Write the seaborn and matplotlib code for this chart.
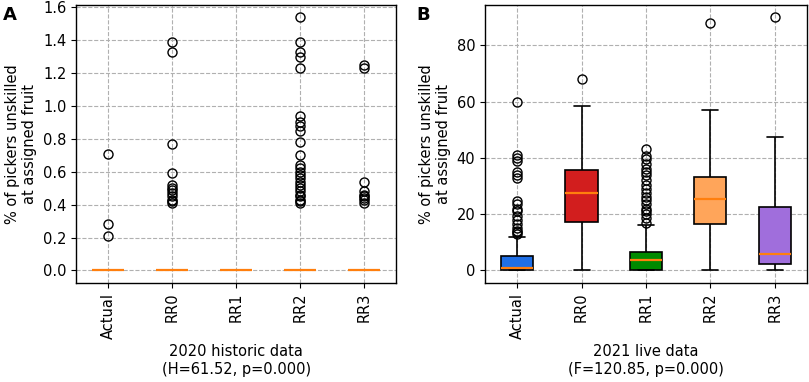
import pandas as pd
import matplotlib
matplotlib.use("Agg")
import matplotlib.pyplot as plt
import seaborn as sns

groups = ["Actual", "RR0", "RR1", "RR2", "RR3"]
box_colors = ["#1f6fe6", "#d21e1e", "#008a00", "#ffa55a", "#a06edc"]

# 2020 historic data (almost everything sits at zero)
a_actual = [0.0] * 60 + [0.21, 0.28, 0.71]
a_rr0 = [0.0] * 60 + [0.41, 0.42, 0.43, 0.45, 0.47, 0.49, 0.50, 0.52, 0.59, 0.77, 1.33, 1.39]
a_rr1 = [0.0] * 60
a_rr2 = [0.0] * 90 + [0.41, 0.42, 0.43, 0.45, 0.46, 0.48, 0.50, 0.52, 0.54, 0.56, 0.58, 0.60,
                      0.62, 0.64, 0.70, 0.78, 0.85, 0.88, 0.90, 0.94, 1.23, 1.30, 1.33, 1.39, 1.54]
a_rr3 = [0.0] * 60 + [0.41, 0.43, 0.44, 0.45, 0.46, 0.48, 0.54, 1.23, 1.25]

# 2021 live data
b_actual = ([0.0] * 20 + [0.3] * 18 + [0.7] + [2.5] * 18 + [5.0, 12.0]
            + [13.0, 13.5, 14.0, 15.0, 16.5, 18.0, 19.5, 21.0, 22.0, 23.5, 24.5,
               33.0, 34.0, 35.0, 39.0, 40.0, 41.0, 60.0])
b_rr0 = [0.0, 10.0, 17.2, 22.0, 27.5, 31.0, 35.8, 58.5, 68.0]
b_rr1 = ([0.0] * 21 + [2.0] * 19 + [3.8] + [5.2] * 19 + [6.7, 16.3]
         + [17.0, 18.5, 20.0, 21.0, 22.0, 23.5, 25.0, 26.0, 27.5, 29.0, 30.5,
            32.0, 34.0, 35.0, 36.0, 38.0, 39.5, 40.5, 43.0])
b_rr2 = [0.0, 8.0, 16.6, 21.0, 25.5, 29.0, 33.2, 57.0, 88.0]
b_rr3 = [0.0, 1.5, 2.4, 4.0, 6.0, 14.0, 22.6, 47.5, 90.0]

xlabel_a = "2020 historic data\n(H=61.52, p=0.000)"
xlabel_b = "2021 live data\n(F=120.85, p=0.000)"
ylabel = "% of pickers unskilled\nat assigned fruit"


def to_long(series):
    rows = []
    for name, vals in zip(groups, series):
        rows += [(name, v) for v in vals]
    return pd.DataFrame(rows, columns=["group", "value"])


df_a = to_long([a_actual, a_rr0, a_rr1, a_rr2, a_rr3])
df_b = to_long([b_actual, b_rr0, b_rr1, b_rr2, b_rr3])

sns.set_style("ticks", {"axes.edgecolor": "black", "xtick.color": "black",
                        "ytick.color": "black", "text.color": "black",
                        "axes.labelcolor": "black"})
plt.rcParams["font.family"] = ["DejaVu Sans"]

fs = 10.5

fig = plt.figure(figsize=(8.09, 3.82), dpi=100)
ax_a = fig.add_axes([0.094, 0.259, 0.396, 0.729])
ax_b = fig.add_axes([0.5995, 0.259, 0.398, 0.729])

box_kw = dict(
    x="group", y="value", hue="group", order=groups, hue_order=groups,
    legend=False, saturation=1, width=0.5, linewidth=1.2, linecolor="black",
    medianprops={"color": "#ff7f0e", "linewidth": 1.6},
    flierprops={"marker": "o", "markerfacecolor": "none",
                "markeredgecolor": "black", "markersize": 6.5, "markeredgewidth": 1.0},
)

sns.boxplot(data=df_a, ax=ax_a, palette=box_colors, **box_kw)
sns.boxplot(data=df_b, ax=ax_b, palette=box_colors, **box_kw)

for ax, xl in [(ax_a, xlabel_a), (ax_b, xlabel_b)]:
    ax.set_axisbelow(True)
    ax.grid(True, linestyle="--", color="#b0b0b0", linewidth=0.8)
    ax.set_xlim(-0.5, 4.5)
    ax.set_xlabel(xl, fontsize=fs)
    ax.set_ylabel(ylabel, fontsize=fs)
    ax.tick_params(axis="x", rotation=90, labelsize=fs)
    ax.tick_params(axis="y", labelsize=fs)
    for s in ax.spines.values():
        s.set_linewidth(1.0)

fig.text(0.004, 0.985, "A", fontsize=13, fontweight="bold", va="top", ha="left")
fig.text(0.515, 0.985, "B", fontsize=13, fontweight="bold", va="top", ha="left")

fig.savefig("out.png", dpi=100)
plt.close(fig)
